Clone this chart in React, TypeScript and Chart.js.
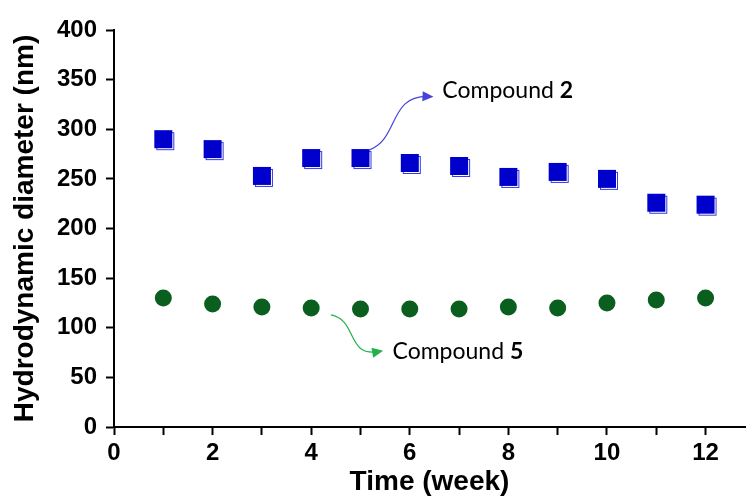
import { useEffect, useRef } from 'react';
import { Chart, registerables } from 'chart.js';

Chart.register(...registerables);

const weeks = [1, 2, 3, 4, 5, 6, 7, 8, 9, 10, 11, 12];
const compound2 = [290, 280, 253, 271, 271, 266, 263, 252, 257, 250, 226, 224];
const compound5 = [130, 124, 121, 120, 119, 119, 119, 121, 120, 125, 128, 130];
const xTickLabels = [0, 2, 4, 6, 8, 10, 12];
const yTickLabels = [0, 50, 100, 150, 200, 250, 300, 350, 400];

const BLUE = '#0000cc';
const GREEN = '#0b5f1e';

function makeSquare(): HTMLCanvasElement {
  const c = document.createElement('canvas');
  c.width = 24;
  c.height = 24;
  const g = c.getContext('2d')!;
  g.strokeStyle = '#3a3ae0';
  g.lineWidth = 1;
  g.strokeRect(5.5, 5.5, 17, 17);
  g.fillStyle = BLUE;
  g.fillRect(3, 3, 18, 18);
  return c;
}

function drawArrow(ctx: CanvasRenderingContext2D, pts: number[][], color: string) {
  const [p0, c1, c2, p1] = pts;
  ctx.save();
  ctx.strokeStyle = color;
  ctx.fillStyle = color;
  ctx.lineWidth = 1.2;
  ctx.beginPath();
  ctx.moveTo(p0[0], p0[1]);
  ctx.bezierCurveTo(c1[0], c1[1], c2[0], c2[1], p1[0], p1[1]);
  ctx.stroke();
  const ang = Math.atan2(p1[1] - c2[1], p1[0] - c2[0]);
  const L = 11;
  const W = 5;
  const tx = p1[0] + Math.cos(ang) * 4;
  const ty = p1[1] + Math.sin(ang) * 4;
  ctx.beginPath();
  ctx.moveTo(tx, ty);
  ctx.lineTo(tx - L * Math.cos(ang) - W * Math.sin(ang), ty - L * Math.sin(ang) + W * Math.cos(ang));
  ctx.lineTo(tx - L * Math.cos(ang) + W * Math.sin(ang), ty - L * Math.sin(ang) - W * Math.cos(ang));
  ctx.closePath();
  ctx.fill();
  ctx.restore();
}

const annotationPlugin = {
  id: 'annotations',
  afterDatasetsDraw(chart: any) {
    const { ctx, scales } = chart;
    const xs = scales.x;
    const ys = scales.y;
    const P = (x: number, y: number) => [xs.getPixelForValue(x), ys.getPixelForValue(y)];
    // Compound 2 arrow
    drawArrow(ctx, [P(5.17, 279), P(5.8, 290), P(5.55, 335), P(6.4, 333)], '#4444dd');
    // Compound 5 arrow
    drawArrow(ctx, [P(4.4, 113), P(4.95, 108), P(4.7, 70), P(5.38, 76)], '#22b14c');
    ctx.save();
    ctx.fillStyle = '#000';
    ctx.textBaseline = 'middle';
    const label = (x: number, y: number, num: string) => {
      const [px, py] = P(x, y);
      ctx.font = '23px Lato, "Open Sans", sans-serif';
      ctx.fillText('Compound ', px, py);
      const w = ctx.measureText('Compound ').width;
      ctx.font = 'bold 23px Lato, "Open Sans", sans-serif';
      ctx.fillText(num, px + w, py);
    };
    label(6.66, 339, '2');
    label(5.65, 76, '5');
    ctx.restore();
  },
};

export default function App() {
  const ref = useRef<HTMLCanvasElement>(null);
  useEffect(() => {
    if (!ref.current) return;
    const square = makeSquare();
    const chart = new Chart(ref.current, {
      type: 'scatter',
      data: {
        datasets: [
          {
            label: 'Compound 2',
            data: weeks.map((w, i) => ({ x: w, y: compound2[i] })),
            pointStyle: square as any,
            pointRadius: 12,
            backgroundColor: BLUE,
            borderColor: BLUE,
          },
          {
            label: 'Compound 5',
            data: weeks.map((w, i) => ({ x: w, y: compound5[i] })),
            pointStyle: 'circle',
            pointRadius: 8.5,
            borderWidth: 0,
            backgroundColor: GREEN,
            borderColor: GREEN,
          },
        ],
      },
      options: {
        animation: false,
        responsive: true,
        maintainAspectRatio: false,
        layout: { autoPadding: false, padding: { top: 30, right: 1, left: 0, bottom: 0 } },
        plugins: { legend: { display: false }, tooltip: { enabled: false } },
        scales: {
          x: {
            type: 'linear',
            min: 0,
            max: 12.8,
            afterFit: (s: any) => { s.height = 72; s.paddingRight = 0; s.paddingLeft = 0; },
            ticks: {
              stepSize: 1,
              includeBounds: false,
              autoSkip: false,
              maxRotation: 0,
              padding: 4,
              color: '#000',
              font: { size: 24, weight: 'bold' },
              callback: (v: any) => (xTickLabels.includes(Number(v)) ? String(v) : ''),
            },
            grid: { drawOnChartArea: false, drawTicks: true, tickLength: 8, tickColor: '#000', tickWidth: 2 },
            border: { color: '#000', width: 2 },
            title: {
              display: true,
              text: 'Time (week)',
              color: '#000',
              font: { size: 28, weight: 'bold' },
              padding: { top: 0, bottom: 0 },
            },
          },
          y: {
            min: 0,
            max: 400,
            afterFit: (s: any) => { s.width = 114; },
            ticks: {
              stepSize: 50,
              padding: 9,
              color: '#000',
              font: { size: 24, weight: 'bold' },
              callback: (v: any) => (yTickLabels.includes(Number(v)) ? String(v) : ''),
            },
            grid: { drawOnChartArea: false, drawTicks: true, tickLength: 8, tickColor: '#000', tickWidth: 2 },
            border: { color: '#000', width: 2 },
            title: {
              display: true,
              text: 'Hydrodynamic diameter (nm)',
              color: '#000',
              font: { size: 28, weight: 'bold' },
              padding: { top: 8, bottom: 0 },
            },
          },
        },
      },
      plugins: [annotationPlugin],
    });
    return () => chart.destroy();
  }, []);
  Chart.defaults.font.family = '"Liberation Sans", Arial, sans-serif';
  return (
    <div style={{ position: 'fixed', left: 0, top: 0, width: 746, height: 499 }}>
      <canvas ref={ref} />
    </div>
  );
}
